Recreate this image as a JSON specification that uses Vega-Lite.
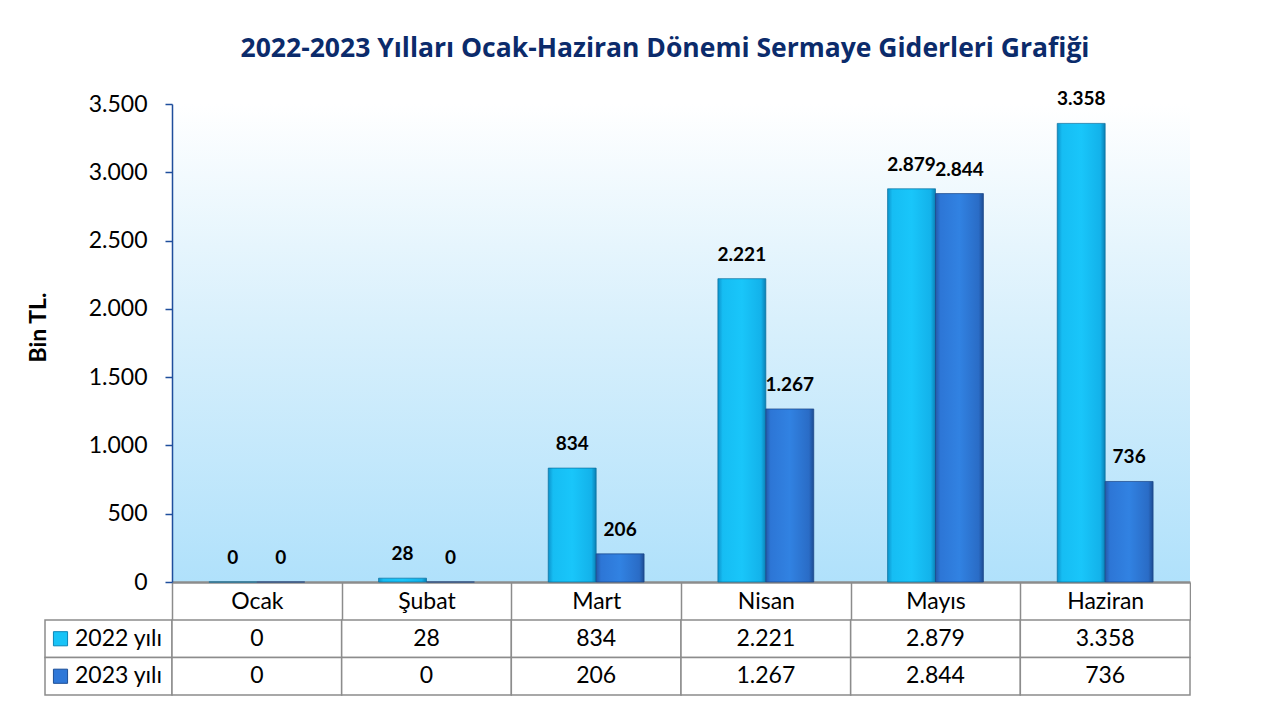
{
  "$schema": "https://vega.github.io/schema/vega-lite/v6.json",
  "background": "white",
  "padding": {"left": 27, "top": 2, "right": 0, "bottom": 0},
  "datasets": {
    "d": [
      {"ay": "Ocak", "yil": "2022 yılı", "deger": 0},
      {"ay": "Şubat", "yil": "2022 yılı", "deger": 28},
      {"ay": "Mart", "yil": "2022 yılı", "deger": 834},
      {"ay": "Nisan", "yil": "2022 yılı", "deger": 2221},
      {"ay": "Mayıs", "yil": "2022 yılı", "deger": 2879},
      {"ay": "Haziran", "yil": "2022 yılı", "deger": 3358},
      {"ay": "Ocak", "yil": "2023 yılı", "deger": 0},
      {"ay": "Şubat", "yil": "2023 yılı", "deger": 0},
      {"ay": "Mart", "yil": "2023 yılı", "deger": 206},
      {"ay": "Nisan", "yil": "2023 yılı", "deger": 1267},
      {"ay": "Mayıs", "yil": "2023 yılı", "deger": 2844},
      {"ay": "Haziran", "yil": "2023 yılı", "deger": 736}
    ]
  },
  "columns": 2,
  "bounds": "flush",
  "spacing": {"row": 38, "column": 0},
  "resolve": {"scale": {"x": "independent", "y": "independent", "xOffset": "independent"}},
  "concat": [
    {"width": 127, "height": 64, "data": {"values": [{}]}, "mark": {"type": "point", "opacity": 0}},
    {"width": 1018, "height": 64, "data": {"values": [{}]}, "mark": {"type": "point", "opacity": 0}},
    {"width": 127, "height": 478, "data": {"values": [{}]}, "mark": {"type": "point", "opacity": 0}},
    {
      "width": 1018,
      "height": 478,
      "data": {"name": "d"},
      "view": {
        "stroke": null,
        "fill": {
          "gradient": "linear", "x1": 0, "y1": 0, "x2": 0, "y2": 1,
          "stops": [
            {"offset": 0, "color": "#ffffff"},
            {"offset": 0.45, "color": "#d9f0fc"},
            {"offset": 1, "color": "#b0e1fb"}
          ]
        }
      },
      "title": {
        "text": "2022-2023 Yılları Ocak-Haziran Dönemi Sermaye Giderleri Grafiği",
        "frame": "group",
        "anchor": "middle",
        "dx": -16,
        "offset": 28,
        "fontSize": 26.5,
        "font": "Open Sans",
        "fontWeight": "bold",
        "color": "#0b2b6b"
      },
      "encoding": {
        "x": {
          "field": "ay",
          "type": "nominal",
          "sort": ["Ocak", "Şubat", "Mart", "Nisan", "Mayıs", "Haziran"],
          "scale": {"paddingInner": 0, "paddingOuter": 0},
          "axis": {
            "title": null,
            "labelAngle": 0,
            "labelFontSize": 23,
            "labelColor": "black",
            "labelFont": "Lato",
            "labelBaseline": "middle",
            "labelPadding": -19,
            "tickBand": "extent",
            "tickSize": 38,
            "tickColor": "#8c8c8c",
            "tickWidth": 1.5,
            "domainColor": "#8c8c8c",
            "domainWidth": 2.5
          }
        },
        "xOffset": {
          "field": "yil",
          "type": "nominal",
          "scale": {"paddingInner": 0, "paddingOuter": 0.77}
        },
        "y": {
          "field": "deger",
          "type": "quantitative",
          "scale": {"domain": [0, 3500], "nice": false},
          "axis": {
            "values": [0, 500, 1000, 1500, 2000, 2500, 3000, 3500],
            "format": ",d",
            "title": "Bin TL.",
            "titleFont": "Lato",
            "titleFontSize": 23,
            "titleFontWeight": "bold",
            "titleColor": "black",
            "titlePadding": 38,
            "titleY": 223,
            "labelFont": "Lato",
            "labelFontSize": 23,
            "labelColor": "black",
            "labelPadding": 18,
            "labelFlush": false,
            "labelOverlap": false,
            "tickSize": 7,
            "tickColor": "#1f4e9c",
            "tickWidth": 1.5,
            "domainColor": "#1f4e9c",
            "domainWidth": 1.5,
            "grid": false
          }
        }
      },
      "layer": [
        {
          "transform": [{"filter": "datum.yil === '2022 yılı'"}],
          "mark": {
            "type": "bar",
            "fill": {
              "gradient": "linear", "x1": 0, "y1": 0, "x2": 1, "y2": 0,
              "stops": [
                {"offset": 0, "color": "#0c93cc"},
                {"offset": 0.1, "color": "#16bdf3"},
                {"offset": 0.5, "color": "#19c6fa"},
                {"offset": 0.9, "color": "#13b2ea"},
                {"offset": 1, "color": "#0a7fb4"}
              ]
            },
            "stroke": "#0a6f9c",
            "strokeWidth": 1,
            "strokeOpacity": 0.7
          }
        },
        {
          "transform": [{"filter": "datum.yil === '2023 yılı'"}],
          "mark": {
            "type": "bar",
            "fill": {
              "gradient": "linear", "x1": 0, "y1": 0, "x2": 1, "y2": 0,
              "stops": [
                {"offset": 0, "color": "#2459a8"},
                {"offset": 0.1, "color": "#2d76d6"},
                {"offset": 0.5, "color": "#3182e2"},
                {"offset": 0.9, "color": "#2a6cc6"},
                {"offset": 1, "color": "#1d4c92"}
              ]
            },
            "stroke": "#1a4688",
            "strokeWidth": 1,
            "strokeOpacity": 0.7
          }
        },
        {
          "mark": {"type": "text", "font": "Lato", "fontWeight": "bold", "fontSize": 19, "baseline": "bottom", "dy": -14, "color": "black"},
          "encoding": {"text": {"field": "deger", "type": "quantitative", "format": ",d"}}
        }
      ]
    },
    {
      "width": 127,
      "height": 75,
      "data": {"name": "d"},
      "transform": [{"filter": "datum.ay === 'Ocak'"}],
      "encoding": {
        "y": {"field": "yil", "type": "nominal", "axis": null, "scale": {"paddingInner": 0, "paddingOuter": 0}}
      },
      "layer": [
        {"mark": {"type": "rect", "fill": "white", "stroke": "#8c8c8c", "strokeWidth": 1.5}},
        {
          "mark": {"type": "point", "shape": "square", "filled": true, "size": 200, "xOffset": -48, "strokeWidth": 1, "opacity": 1},
          "encoding": {
            "fill": {"condition": {"test": "datum.yil === '2022 yılı'", "value": "#17c3f7"}, "value": "#2f78d8"},
            "stroke": {"condition": {"test": "datum.yil === '2022 yılı'", "value": "#0b86b8"}, "value": "#1d4f96"}
          }
        },
        {
          "mark": {"type": "text", "font": "Lato", "fontSize": 23, "dx": 10, "color": "black"},
          "encoding": {"text": {"field": "yil", "type": "nominal"}}
        }
      ]
    },
    {
      "width": 1018,
      "height": 75,
      "data": {"name": "d"},
      "encoding": {
        "x": {"field": "ay", "type": "nominal", "sort": ["Ocak", "Şubat", "Mart", "Nisan", "Mayıs", "Haziran"], "axis": null, "scale": {"paddingInner": 0, "paddingOuter": 0}},
        "y": {"field": "yil", "type": "nominal", "axis": null, "scale": {"paddingInner": 0, "paddingOuter": 0}}
      },
      "layer": [
        {"mark": {"type": "rect", "fill": "white", "stroke": "#8c8c8c", "strokeWidth": 1.5}},
        {
          "mark": {"type": "text", "font": "Lato", "fontSize": 23, "color": "black"},
          "encoding": {"text": {"field": "deger", "type": "quantitative", "format": ",d"}}
        }
      ]
    }
  ],
  "config": {
    "font": "Lato",
    "view": {"stroke": null},
    "locale": {"number": {"decimal": ",", "thousands": ".", "grouping": [3], "currency": ["", " TL"]}}
  }
}
